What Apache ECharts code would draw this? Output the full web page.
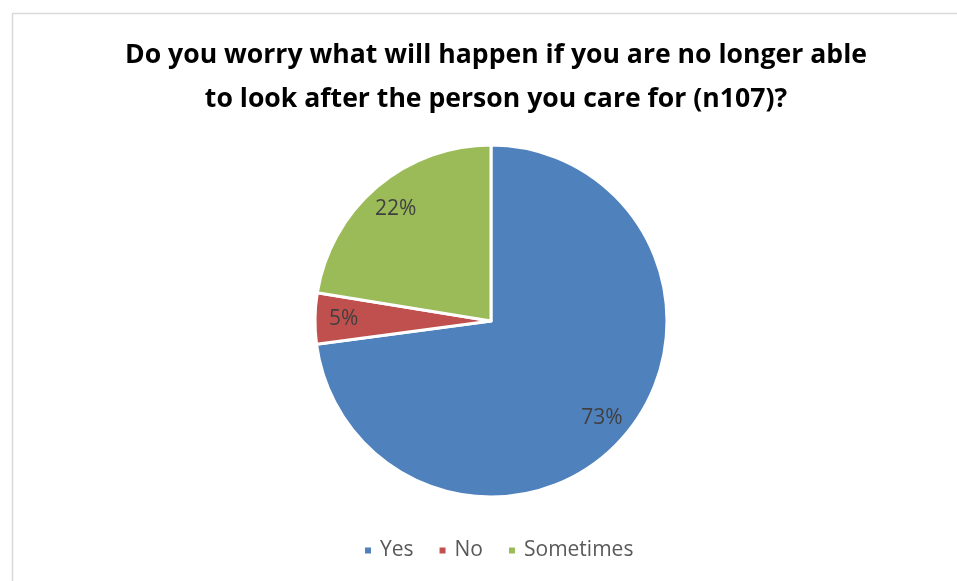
<!DOCTYPE html>
<html>
<head>
<meta charset="utf-8">
<script src="https://cdn.jsdelivr.net/npm/echarts@6/dist/echarts.min.js"></script>
<style>
  html, body { margin: 0; padding: 0; background: #ffffff; }
  #chart { width: 957px; height: 581px; }
</style>
</head>
<body>
<div id="chart"></div>
<script>
// Survey responses (n = 107)
const categories = ['Yes', 'No', 'Sometimes'];
const counts = [78, 5, 24];
const colors = ['#4f81bd', '#c0504d', '#9bbb59'];
const titleText = 'Do you worry what will happen if you are no longer able\nto look after the person you care for (n107)?';

const total = counts.reduce((a, b) => a + b, 0);
const pieData = categories.map((name, i) => ({
  name: name,
  value: counts[i],
  itemStyle: { color: colors[i] }
}));

const chart = echarts.init(document.getElementById('chart'), null, { renderer: 'canvas' });

const center = [491, 321];
const radius = 176;

chart.setOption({
  animation: false,
  backgroundColor: '#ffffff',
  graphic: [{
    type: 'rect',
    shape: { x: 12.5, y: 13.5, width: 970, height: 600 },
    style: { fill: 'none', stroke: '#d9d9d9', lineWidth: 1.5 },
    silent: true
  }],
  title: {
    text: titleText,
    left: 491,
    top: 28,
    textAlign: 'center',
    textStyle: {
      fontFamily: 'Open Sans, sans-serif',
      fontWeight: 'bold',
      fontSize: 26.6,
      lineHeight: 44,
      color: '#000000'
    }
  },
  legend: {
    data: categories,
    left: 358,
    top: 535,
    icon: 'rect',
    itemWidth: 8,
    itemHeight: 8,
    itemGap: 24,
    textStyle: {
      fontFamily: 'Open Sans, sans-serif',
      fontSize: 21,
      color: '#595959',
      padding: [0, 0, 0, 3]
    }
  },
  series: [
    {
      type: 'pie',
      center: center,
      radius: [0, radius],
      startAngle: 90,
      clockwise: true,
      label: { show: false },
      labelLine: { show: false },
      itemStyle: { borderColor: '#ffffff', borderWidth: 3 },
      emphasis: { disabled: true },
      data: pieData
    },
    {
      // transparent ring that only carries the percentage labels
      type: 'pie',
      center: center,
      radius: [radius * 0.64, radius],
      startAngle: 90,
      clockwise: true,
      silent: true,
      itemStyle: { color: 'rgba(0,0,0,0)' },
      label: {
        show: true,
        position: 'inside',
        formatter: p => Math.round(p.value / total * 100) + '%',
        fontFamily: 'Open Sans, sans-serif',
        fontSize: 21,
        color: '#404040'
      },
      labelLine: { show: false },
      emphasis: { disabled: true },
      data: categories.map((name, i) => ({ name: name, value: counts[i] }))
    }
  ]
});
</script>
</body>
</html>
